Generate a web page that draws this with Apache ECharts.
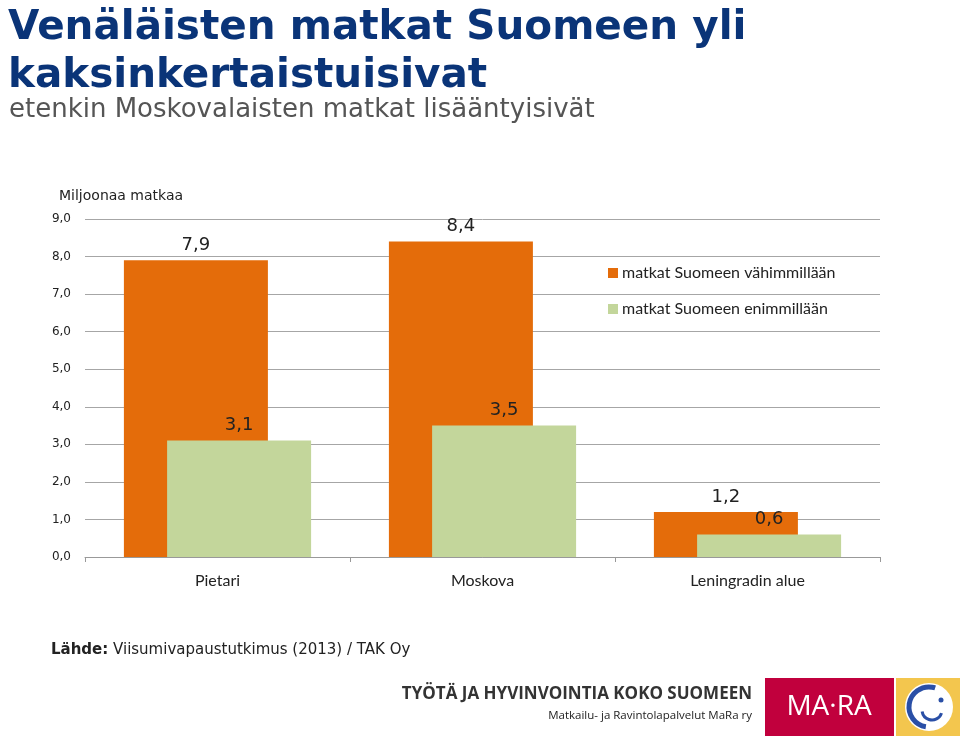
<!DOCTYPE html>
<html><head><meta charset="utf-8">
<script src="https://cdn.jsdelivr.net/npm/echarts@6/dist/echarts.min.js"></script>
<style>html,body{margin:0;padding:0;background:#fff}#c{width:960px;height:736px}</style>
</head><body><div id="c"></div>
<script>
const categories = ['Pietari', 'Moskova', 'Leningradin alue'];
const minTrips = [7.9, 8.4, 1.2];
const maxTrips = [3.1, 3.5, 0.6];
const seriesNames = ['matkat Suomeen vähimmillään', 'matkat Suomeen enimmillään'];

const fmt = v => v.toFixed(1).replace('.', ',');
const chart = echarts.init(document.getElementById('c'), null, {renderer: 'canvas'});
const labelCfg = {show: true, position: 'top', distance: 6, color: '#222', fontSize: 18,
  fontFamily: 'DejaVu Sans', formatter: p => fmt(p.value)};
chart.setOption({
  animation: false,
  backgroundColor: '#fff',
  title: [
    {text: 'Venäläisten matkat Suomeen yli\nkaksinkertaistuisivat', left: 3, top: -1,
     textStyle: {fontFamily: 'DejaVu Sans', fontWeight: 'bold', fontSize: 40.5, color: '#0a3478', lineHeight: 48}},
    {text: 'etenkin Moskovalaisten matkat lisääntyisivät', left: 4, top: 92,
     textStyle: {fontFamily: 'DejaVu Sans', fontWeight: 'normal', fontSize: 26, color: '#555'}},
    {text: 'Miljoonaa matkaa', left: 54, top: 184,
     textStyle: {fontFamily: 'DejaVu Sans', fontWeight: 'normal', fontSize: 14, color: '#222'}},
    {text: '{b|Lähde:} Viisumivapaustutkimus (2013) / TAK Oy', left: 46, top: 638,
     textStyle: {fontFamily: 'DejaVu Sans', fontWeight: 'normal', fontSize: 15, color: '#222',
       rich: {b: {fontFamily: 'DejaVu Sans', fontWeight: 'bold', fontSize: 15, color: '#222'}}}}
  ],
  legend: {
    orient: 'vertical', left: 603, top: 260, itemWidth: 10, itemHeight: 10, itemGap: 20,
    icon: 'rect', data: seriesNames,
    textStyle: {fontFamily: 'Lato', fontSize: 16, color: '#222', padding: [0, 0, 0, -1]}
  },
  grid: {left: 85, right: 80, top: 219, bottom: 179, containLabel: false},
  xAxis: {
    type: 'category', data: categories,
    axisLine: {lineStyle: {color: '#999'}},
    axisTick: {show: true, length: 5, lineStyle: {color: '#999'}},
    axisLabel: {color: '#222', fontFamily: 'Lato', fontSize: 16, margin: 16}
  },
  yAxis: {
    type: 'value', min: 0, max: 9, interval: 1,
    axisLine: {show: false}, axisTick: {show: false},
    splitLine: {lineStyle: {color: '#a6a6a6'}},
    axisLabel: {color: '#222', fontFamily: 'DejaVu Sans', fontSize: 12, margin: 14, formatter: v => fmt(v)}
  },
  series: [
    {name: seriesNames[0], type: 'bar', data: minTrips, barWidth: 144, barGap: '-70%',
     barCategoryGap: '29%', itemStyle: {color: '#e46c0a'}, label: labelCfg},
    {name: seriesNames[1], type: 'bar', data: maxTrips, barWidth: 144,
     itemStyle: {color: '#c3d69b'}, label: labelCfg}
  ],
  graphic: [
    {type: 'text', right: 208, top: 686, style: {text: 'TYÖTÄ JA HYVINVOINTIA KOKO SUOMEEN',
      font: 'bold 17px "Open Sans"', fill: '#333'}},
    {type: 'text', right: 208, top: 710, style: {text: 'Matkailu- ja Ravintolapalvelut MaRa ry',
      font: '11.5px "Open Sans"', fill: '#222'}},
    {type: 'rect', shape: {x: 765, y: 678, width: 129, height: 58}, style: {fill: '#c1003d'}},
    {type: 'text', x: 829, y: 707, style: {text: 'MA·RA', font: '500 28px "Open Sans"', fill: '#fff',
      align: 'center', verticalAlign: 'middle'}},
    {type: 'rect', shape: {x: 896, y: 678, width: 64, height: 58}, style: {fill: '#f3c64e'}},
    {type: 'circle', shape: {cx: 929, cy: 707, r: 24}, style: {fill: '#fff'}},
    {type: 'arc', shape: {cx: 929, cy: 707, r: 20, startAngle: Math.PI * 0.55, endAngle: Math.PI * 1.6},
      style: {stroke: '#2a4fa6', lineWidth: 5, fill: null}},
    {type: 'arc', shape: {cx: 932, cy: 710, r: 10, startAngle: Math.PI * 0.1, endAngle: Math.PI * 0.95},
      style: {stroke: '#2a4fa6', lineWidth: 3, fill: null}},
    {type: 'circle', shape: {cx: 941, cy: 700, r: 2.5}, style: {fill: '#2a4fa6'}}
  ]
});
</script></body></html>
